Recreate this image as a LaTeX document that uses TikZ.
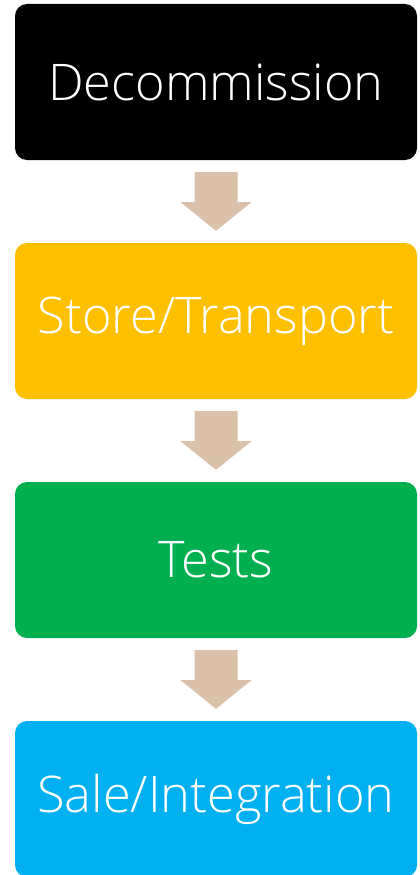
\documentclass[tikz,border=0pt]{standalone}
\usepackage{fontspec}
\setmainfont{Open Sans Light}
\usetikzlibrary{calc}
\definecolor{stepblack}{HTML}{000000}
\definecolor{stepyellow}{HTML}{FFC000}
\definecolor{stepgreen}{HTML}{00B050}
\definecolor{stepblue}{HTML}{00B0F0}
\definecolor{flowtan}{HTML}{DBC1AA}
\tikzset{
  stagebox/.style={rectangle, rounded corners=12pt, minimum width=402pt,
    minimum height=156pt, inner sep=0pt, text=white,
    font=\fontsize{50.5}{58}\selectfont},
  flowarrow/.style={fill=flowtan, draw=none}
}
% block arrow from the bottom of box #1 to the top of box #2
\newcommand{\blockarrow}[2]{%
  \fill[flowarrow] ($(#1.south)+(-21.5pt,-12pt)$) -- ($(#1.south)+(21.5pt,-12pt)$)
    -- ($(#1.south)+(21.5pt,-42pt)$) -- ($(#1.south)+(35.5pt,-42pt)$)
    -- ($(#2.north)+(0,12pt)$)
    -- ($(#1.south)+(-35.5pt,-42pt)$) -- ($(#1.south)+(-21.5pt,-42pt)$) -- cycle;}
\begin{document}
\begin{tikzpicture}[x=1pt,y=1pt]
  \useasboundingbox (0,0) rectangle (420,-875);
  \node[stagebox, fill=stepblack] (decom) at (216,-82) {Decommission};
  \node[stagebox, fill=stepyellow] (store) at (216,-321) {Store/Transport};
  \node[stagebox, fill=stepgreen] (tests) at (216,-560) {Tests};
  \node[stagebox, fill=stepblue] (sale) at (216,-799) {Sale/Integration};
  \blockarrow{decom}{store}
  \blockarrow{store}{tests}
  \blockarrow{tests}{sale}
\end{tikzpicture}
\end{document}
